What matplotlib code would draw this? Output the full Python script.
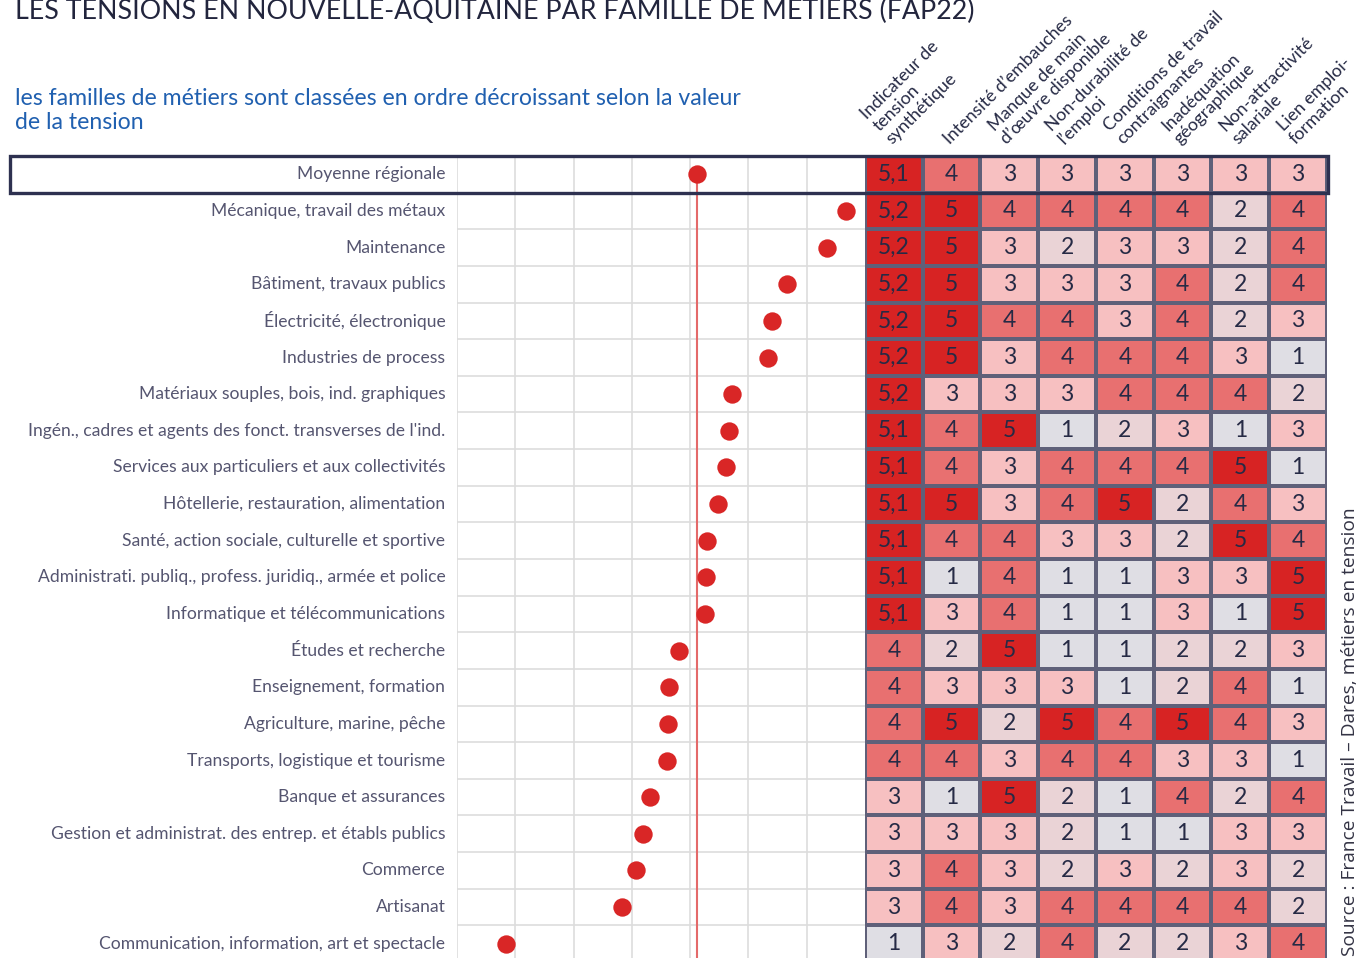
import numpy as np
import matplotlib.pyplot as plt
from matplotlib.colors import ListedColormap, BoundaryNorm
from matplotlib.patches import Rectangle
from matplotlib.transforms import blended_transform_factory

plt.rcParams['font.family'] = ['Lato', 'DejaVu Sans']

# familles de métiers, classées par tension décroissante (première ligne = moyenne)
familles = [
    "Moyenne régionale",
    "Mécanique, travail des métaux",
    "Maintenance",
    "Bâtiment, travaux publics",
    "Électricité, électronique",
    "Industries de process",
    "Matériaux souples, bois, ind. graphiques",
    "Ingén., cadres et agents des fonct. transverses de l'ind.",
    "Services aux particuliers et aux collectivités",
    "Hôtellerie, restauration, alimentation",
    "Santé, action sociale, culturelle et sportive",
    "Administrati. publiq., profess. juridiq., armée et police",
    "Informatique et télécommunications",
    "Études et recherche",
    "Enseignement, formation",
    "Agriculture, marine, pêche",
    "Transports, logistique et tourisme",
    "Banque et assurances",
    "Gestion et administrat. des entrep. et établs publics",
    "Commerce",
    "Artisanat",
    "Communication, information, art et spectacle",
]

# valeur de la tension (position des points)
tension = [4.12, 6.67, 6.34, 5.67, 5.40, 5.34, 4.71, 4.67, 4.62, 4.48, 4.29,
           4.28, 4.26, 3.81, 3.64, 3.62, 3.60, 3.31, 3.19, 3.07, 2.83, 0.84]

criteres = [
    "Indicateur de\ntension\nsynthétique",
    "Intensité d’embauches",
    "Manque de main\nd’œuvre disponible",
    "Non-durabilité de\nl’emploi",
    "Conditions de travail\ncontraignantes",
    "Inadéquation\ngéographique",
    "Non-attractivité\nsalariale",
    "Lien emploi-\nformation",
]

scores = np.array([
    [5.1, 4, 3, 3, 3, 3, 3, 3],
    [5.2, 5, 4, 4, 4, 4, 2, 4],
    [5.2, 5, 3, 2, 3, 3, 2, 4],
    [5.2, 5, 3, 3, 3, 4, 2, 4],
    [5.2, 5, 4, 4, 3, 4, 2, 3],
    [5.2, 5, 3, 4, 4, 4, 3, 1],
    [5.2, 3, 3, 3, 4, 4, 4, 2],
    [5.1, 4, 5, 1, 2, 3, 1, 3],
    [5.1, 4, 3, 4, 4, 4, 5, 1],
    [5.1, 5, 3, 4, 5, 2, 4, 3],
    [5.1, 4, 4, 3, 3, 2, 5, 4],
    [5.1, 1, 4, 1, 1, 3, 3, 5],
    [5.1, 3, 4, 1, 1, 3, 1, 5],
    [4, 2, 5, 1, 1, 2, 2, 3],
    [4, 3, 3, 3, 1, 2, 4, 1],
    [4, 5, 2, 5, 4, 5, 4, 3],
    [4, 4, 3, 4, 4, 3, 3, 1],
    [3, 1, 5, 2, 1, 4, 2, 4],
    [3, 3, 3, 2, 1, 1, 3, 3],
    [3, 4, 3, 2, 3, 2, 3, 2],
    [3, 4, 3, 4, 4, 4, 4, 2],
    [1, 3, 2, 4, 2, 2, 3, 4],
])

W, H = 1367, 958
navy = '#262a45'
red = '#d92626'


# position d'un axe a partir de pixels (origine en haut a gauche)
def fig_box(x0, y0, x1, y1):
    return [x0 / W, 1 - y1 / H, (x1 - x0) / W, (y1 - y0) / H]


fig = plt.figure(figsize=(W / 100, H / 100), dpi=100)
ax_dot = fig.add_axes(fig_box(457, 156, 865, 958))
ax_hm = fig.add_axes(fig_box(865, 156, 1327, 958))

n = len(familles)
rows = np.arange(n)
ylim = (n - 0.5 - 0.11, -0.5)

# --- panneau des points ---
ax_dot.set_xlim(0, 7)
ax_dot.set_ylim(*ylim)
for v in range(7):
    ax_dot.axvline(v, color='#dddddd', lw=1.2, zorder=0)
for b in np.arange(n) + 0.5:
    ax_dot.axhline(b, color='#dddddd', lw=1.2, zorder=0)
ax_dot.plot([tension[0], tension[0]], [0, n], color='#e46a6a', lw=1.5, zorder=2)
ax_dot.scatter(tension, rows, s=175, color=red, zorder=3, clip_on=False, linewidths=0)
for i, lab in enumerate(familles):
    ax_dot.text(-0.2, i, lab, ha='right', va='center', fontsize=12.6, color='#555570')
ax_dot.set_xticks([])
ax_dot.set_yticks([])
for s in ax_dot.spines.values():
    s.set_visible(False)

# --- carte de chaleur ---
cmap = ListedColormap(['#dfdee4', '#ead3d6', '#f7c0c1', '#e87070', '#d72323'])
norm = BoundaryNorm([0.5, 1.5, 2.5, 3.5, 4.5, 5.5], cmap.N)
ax_hm.pcolormesh(np.arange(scores.shape[1] + 1), np.arange(n + 1) - 0.5, scores,
                 cmap=cmap, norm=norm, edgecolors='#5f6079', linewidth=1.5)
ax_hm.set_xlim(0, scores.shape[1])
ax_hm.set_ylim(*ylim)
for i in range(n):
    for j in range(scores.shape[1]):
        v = scores[i, j]
        txt = str(int(v)) if v == int(v) else f"{v:.1f}".replace('.', ',')
        ax_hm.text(j + 0.5, i, txt, ha='center', va='center', fontsize=16.5, color=navy)
for j, lab in enumerate(criteres):
    ax_hm.text(j + 0.5, -0.75, lab, rotation=45, rotation_mode='anchor',
               ha='left', va='bottom', fontsize=12.8, color=navy,
               linespacing=1.12, clip_on=False)
ax_hm.set_xticks([])
ax_hm.set_yticks([])
for s in ax_hm.spines.values():
    s.set_visible(False)

# cadre autour de la moyenne régionale
tr = blended_transform_factory(fig.transFigure, ax_dot.transData)
fig.add_artist(Rectangle((10 / W, -0.5), (1328 - 10) / W, 1.0, transform=tr,
                         fill=False, lw=2.4, ec='#2e3150', zorder=5))

# textes
fig.text(15 / W, 1 - 19 / H, "LES TENSIONS EN NOUVELLE-AQUITAINE PAR FAMILLE DE METIERS (FAP22)",
         fontsize=19.3, color='#22253d', va='baseline', ha='left')
fig.text(15 / W, 1 - 88 / H,
         "les familles de métiers sont classées en ordre décroissant selon la valeur\nde la tension",
         fontsize=16.6, color='#2060b0', va='top', ha='left', linespacing=1.2)
fig.text(1350 / W, 2 / H, "Source : France Travail – Dares, métiers en tension",
         rotation=90, fontsize=13.8, color='#333344', ha='center', va='bottom',
         family=['Open Sans', 'DejaVu Sans'])

fig.savefig('out.png', dpi=100)
